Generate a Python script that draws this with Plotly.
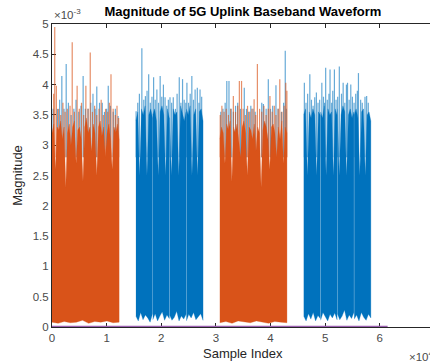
import numpy as np
import plotly.graph_objects as go

# ---- data (x in units of 1e4 samples, y in units of 1e-3) ----
orange_blocks = [(0.0, 1.229), (3.072, 4.301)]
orange_top_1 = [3.2, 3.35, 2.6, 3.3, 3.25, 3.4, 3.1, 3.3, 2.3, 3.2, 3.35, 3.0, 3.3, 3.4, 2.7, 3.25, 3.3, 3.1, 2.4, 3.3,
                3.45, 3.2, 3.3, 2.9, 3.35, 3.2, 2.5, 3.3, 3.4, 3.15, 3.3, 2.8, 3.2, 3.35, 3.1, 2.6, 3.3, 3.2, 3.35, 3.1]
orange_top_2 = [3.1, 3.3, 3.2, 2.7, 3.35, 3.25, 3.4, 2.4, 3.3, 3.2, 3.35, 3.1, 2.8, 3.3, 3.4, 3.2, 2.5, 3.3, 3.25, 3.1,
                3.35, 2.9, 3.3, 3.2, 2.3, 3.25, 3.4, 3.3, 3.1, 2.6, 3.3, 3.35, 3.2, 2.8, 3.3, 3.1, 3.4, 2.7, 3.3, 3.2]
orange_bot_1 = [0.08, 0.06, 0.09, 0.07, 0.08, 0.11, 0.06, 0.09, 0.08, 0.10, 0.07, 0.08]
orange_bot_2 = [0.07, 0.09, 0.06, 0.10, 0.08, 0.07, 0.10, 0.08, 0.06, 0.09, 0.08, 0.07]

blue_blocks = [(1.536, 1.840), (1.846, 2.147), (2.153, 2.455), (2.461, 2.765),
               (4.608, 4.912), (4.918, 5.219), (5.225, 5.527), (5.533, 5.837)]
blue_tops = [
    [3.4, 3.55, 2.5, 3.6, 3.5, 3.65, 2.5, 3.5, 3.6, 3.45],
    [3.5, 3.6, 3.4, 2.5, 3.55, 3.65, 3.5, 2.5, 3.6, 3.45],
    [3.45, 2.5, 3.6, 3.5, 3.55, 2.5, 3.65, 3.5, 3.4, 3.55],
    [3.6, 3.5, 3.65, 2.5, 3.5, 3.6, 2.5, 3.55, 3.6, 3.4],
    [3.5, 3.6, 2.5, 3.55, 3.45, 3.6, 3.5, 2.5, 3.55, 3.5],
    [3.55, 3.45, 3.65, 2.5, 3.6, 3.5, 3.55, 2.5, 3.6, 3.5],
    [3.6, 2.5, 3.5, 3.65, 3.55, 2.5, 3.5, 3.6, 3.45, 3.55],
    [3.5, 3.6, 3.45, 2.5, 3.55, 3.6, 2.5, 3.5, 3.55, 3.4],
]
blue_bots = [
    [0.18, 0.10, 0.24, 0.12, 0.20, 0.15, 0.08, 0.22],
    [0.12, 0.22, 0.10, 0.18, 0.25, 0.11, 0.20, 0.14],
    [0.20, 0.11, 0.16, 0.26, 0.10, 0.18, 0.13, 0.21],
    [0.10, 0.21, 0.15, 0.24, 0.12, 0.17, 0.22, 0.11],
    [0.18, 0.10, 0.22, 0.13, 0.24, 0.10, 0.19, 0.14],
    [0.11, 0.24, 0.16, 0.10, 0.21, 0.15, 0.23, 0.12],
    [0.22, 0.12, 0.18, 0.28, 0.11, 0.20, 0.14, 0.24],
    [0.13, 0.20, 0.10, 0.24, 0.16, 0.11, 0.21, 0.15],
]

orange_spike_x = [0.03, 0.05, 0.08, 0.12, 0.16, 0.20, 0.24, 0.28, 0.33, 0.37, 0.41, 0.46, 0.50, 0.54, 0.58, 0.62,
                  0.66, 0.70, 0.74, 0.78, 0.82, 0.86, 0.90, 0.94, 0.98, 1.02, 1.05, 1.08, 1.12, 1.16, 1.19, 1.22,
                  3.08, 3.11, 3.15, 3.19, 3.23, 3.27, 3.32, 3.36, 3.40, 3.43, 3.47, 3.50, 3.54, 3.58, 3.62, 3.66,
                  3.70, 3.73, 3.76, 3.80, 3.84, 3.88, 3.92, 3.96, 3.99, 4.03, 4.07, 4.10, 4.14, 4.17, 4.21, 4.25,
                  4.28, 4.30]
orange_spike_y = [3.85, 4.95, 3.98, 3.60, 3.50, 3.70, 3.55, 3.60, 3.65, 4.70, 3.55, 3.98, 3.60, 3.70, 3.50, 3.98,
                  3.60, 4.53, 3.55, 3.65, 3.50, 3.60, 3.75, 3.50, 3.60, 3.55, 3.70, 4.17, 3.60, 3.50, 3.65, 3.45,
                  3.50, 3.65, 3.55, 3.60, 3.50, 3.60, 3.81, 3.55, 3.65, 4.06, 4.06, 3.60, 3.50, 3.65, 3.55, 3.60,
                  3.76, 3.50, 4.34, 3.60, 3.55, 3.65, 3.50, 3.60, 3.81, 3.55, 3.65, 3.50, 3.60, 4.09, 3.55, 3.65,
                  4.03, 3.90]

blue_spike_x = [0.02, 0.10, 0.14, 0.18, 0.22, 0.26, 0.30, 0.35, 0.40, 0.44, 0.49, 0.53, 0.57, 0.61, 0.66, 0.71,
                0.75, 0.79, 0.82, 0.87, 0.92, 0.96, 1.00, 1.03, 1.07, 1.12, 1.16, 1.21,
                1.54, 1.57, 1.60, 1.645, 1.68, 1.71, 1.74, 1.77, 1.80, 1.83, 1.86, 1.89, 1.92, 1.95, 1.98, 2.01,
                2.04, 2.07, 2.10, 2.13, 2.16, 2.19, 2.22, 2.26, 2.29, 2.33, 2.36, 2.39, 2.42, 2.45, 2.47, 2.50,
                2.53, 2.56, 2.59, 2.62, 2.66, 2.69, 2.71, 2.74,
                3.09, 3.13, 3.17, 3.20, 3.24, 3.28, 3.32, 3.36, 3.40, 3.45, 3.52, 3.56, 3.60, 3.64, 3.68, 3.72,
                3.84, 3.87, 3.92, 3.96, 4.00, 4.04, 4.10, 4.14, 4.20, 4.24, 4.27, 4.29,
                4.62, 4.65, 4.68, 4.72, 4.75, 4.78, 4.81, 4.84, 4.87, 4.90, 4.94, 4.97, 4.99, 5.01, 5.04, 5.07,
                5.09, 5.12, 5.14, 5.17, 5.20, 5.23, 5.26, 5.30, 5.33, 5.36, 5.39, 5.41, 5.44, 5.47, 5.50, 5.53,
                5.56, 5.59, 5.61, 5.65, 5.68, 5.73, 5.76, 5.79]
blue_spike_y = [3.60, 3.60, 3.75, 4.14, 3.60, 4.34, 3.70, 3.50, 3.60, 3.75, 3.55, 3.65, 4.14, 3.60, 3.60, 3.70,
                3.85, 3.60, 3.97, 3.70, 3.70, 3.55, 3.60, 3.98, 3.65, 3.55, 3.60, 3.48,
                3.56, 3.70, 3.85, 4.60, 3.75, 3.81, 3.90, 4.17, 3.70, 3.80, 4.12, 3.75, 3.92, 3.70, 4.14, 3.80,
                4.00, 3.79, 3.65, 3.75, 3.79, 3.70, 3.79, 3.60, 3.85, 4.12, 3.70, 4.09, 3.75, 3.70, 4.03, 3.70,
                3.85, 4.14, 3.75, 3.92, 3.95, 3.70, 3.92, 3.80,
                3.55, 3.60, 3.70, 4.06, 4.06, 3.60, 3.55, 3.65, 3.70, 3.60, 3.95, 3.60, 3.55, 3.65, 3.60, 3.55,
                3.70, 3.68, 3.60, 4.09, 3.60, 3.65, 3.99, 3.60, 3.55, 3.70, 4.56, 3.60,
                4.03, 3.70, 3.85, 4.17, 3.75, 3.65, 3.79, 3.87, 3.70, 3.75, 4.03, 3.80, 3.70, 4.28, 3.75, 3.85,
                4.25, 3.70, 3.90, 4.25, 3.75, 3.80, 4.30, 3.85, 4.03, 3.70, 4.00, 4.03, 3.75, 4.00, 3.80, 3.70,
                3.85, 3.90, 4.19, 3.75, 3.70, 3.80, 3.81, 3.70]

baseline_x = [0.0, 6.144]
baseline_y = [0.0, 0.0]

x_tick_vals = [0, 1, 2, 3, 4, 5, 6]
x_tick_text = ["0", "1", "2", "3", "4", "5", "6"]
y_tick_vals = [0, 0.5, 1, 1.5, 2, 2.5, 3, 3.5, 4, 4.5, 5]
y_tick_text = ["0", "0.5", "1", "1.5", "2", "2.5", "3", "3.5", "4", "4.5", "5"]

BLUE = "#0072BD"
ORANGE = "#D95319"
PURPLE = "#9B5FB0"
FONT = "Liberation Sans, Arial, sans-serif"
AX = "#262626"
TICKFONT = "#4a4a4a"


def spike_xy(xs, ys, base):
    X, Y = [], []
    for x, y in zip(xs, ys):
        X += [x, x, None]
        Y += [base, y, None]
    return X, Y


def body_xy(x0, x1, top, bot):
    xt = np.linspace(x0, x1, len(top))
    xb = np.linspace(x1, x0, len(bot))
    return list(xt) + list(xb), list(top) + list(bot[::-1])


fig = go.Figure()

# blue spikes (behind)
sx, sy = spike_xy(blue_spike_x, blue_spike_y, 2.8)
fig.add_trace(go.Scatter(x=sx, y=sy, mode="lines", line=dict(color="rgba(0,114,189,0.6)", width=1.2),
                         hoverinfo="skip"))
# blue bodies
for (x0, x1), top, bot in zip(blue_blocks, blue_tops, blue_bots):
    bx, by = body_xy(x0, x1, top, bot)
    fig.add_trace(go.Scatter(x=bx, y=by, mode="lines", fill="toself", fillcolor=BLUE,
                             line=dict(color=BLUE, width=0.3), hoverinfo="skip"))
# orange spikes
sx, sy = spike_xy(orange_spike_x, orange_spike_y, 2.8)
fig.add_trace(go.Scatter(x=sx, y=sy, mode="lines", line=dict(color="rgba(217,83,25,0.65)", width=1.2),
                         hoverinfo="skip"))
# orange bodies
for (x0, x1), top, bot in zip(orange_blocks, [orange_top_1, orange_top_2], [orange_bot_1, orange_bot_2]):
    bx, by = body_xy(x0, x1, top, bot)
    fig.add_trace(go.Scatter(x=bx, y=by, mode="lines", fill="toself", fillcolor=ORANGE,
                             line=dict(color=ORANGE, width=0.3), hoverinfo="skip"))
# purple baseline
fig.add_trace(go.Scatter(x=baseline_x, y=baseline_y, mode="lines", line=dict(color=PURPLE, width=2.5),
                         hoverinfo="skip"))

fig.update_layout(
    width=430, height=364,
    margin=dict(l=52, r=0, t=24, b=37),
    plot_bgcolor="white", paper_bgcolor="white",
    showlegend=False,
    font=dict(family=FONT, color=AX),
    title=dict(text="<b>Magnitude of 5G Uplink Baseband Waveform</b>", xref="paper", x=0.505,
               xanchor="center", yref="container", y=1 - 11 / 364, yanchor="middle",
               font=dict(family=FONT, size=13, color="#000000")),
    xaxis=dict(range=[0, 6.92], tickvals=x_tick_vals, ticktext=x_tick_text, ticks="inside", ticklen=4,
               tickcolor=AX, showline=True, linecolor=AX, linewidth=1, mirror="ticks", showgrid=False,
               zeroline=False, tickfont=dict(size=11.5, color=TICKFONT), layer="below traces"),
    yaxis=dict(range=[0, 5], tickvals=y_tick_vals, ticktext=y_tick_text, ticks="inside", ticklen=4,
               tickcolor=AX, showline=True, linecolor=AX, linewidth=1, mirror=False, showgrid=False,
               zeroline=False, tickfont=dict(size=11.5, color=TICKFONT), layer="below traces"),
    annotations=[
        dict(text="×10<sup>-3</sup>", xref="paper", yref="paper", x=0.0, y=1.033, xanchor="left",
             yanchor="middle", showarrow=False, font=dict(size=11.5, color=TICKFONT)),
        dict(text="Sample Index", xref="paper", yref="paper", x=0.505, y=-0.089, xanchor="center",
             yanchor="middle", showarrow=False, font=dict(size=13, color=AX)),
        dict(text="×10<sup>4</sup>", xref="paper", yref="paper", x=0.939, y=-0.096, xanchor="left",
             yanchor="middle", showarrow=False, font=dict(size=11.5, color=TICKFONT)),
        dict(text="Magnitude", xref="paper", yref="paper", x=-0.09, y=0.502, xanchor="center",
             yanchor="middle", textangle=-90, showarrow=False, font=dict(size=13, color=AX)),
    ],
)

fig.write_html("out.html", config={"displayModeBar": False},
               post_script="document.body.style.margin='0';document.body.style.overflow='hidden';")
